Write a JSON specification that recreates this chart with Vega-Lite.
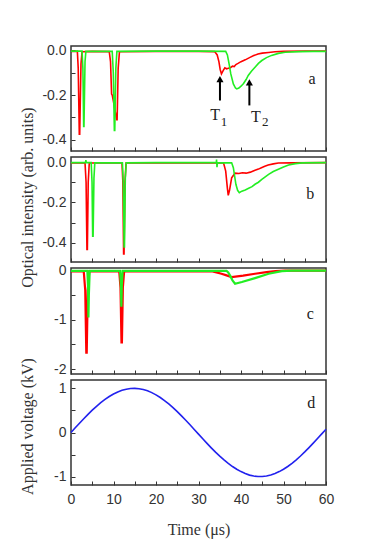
{
  "$schema": "https://vega.github.io/schema/vega-lite/v6.json",
  "padding": {"left": 18, "top": 42, "right": 5, "bottom": 5},
  "background": "white",
  "spacing": 6,
  "bounds": "flush",
  "config": {
    "view": {"stroke": "#333", "strokeWidth": 1.5},
    "axis": {"domain": false, "grid": false, "tickSize": -4, "tickColor": "#333", "tickWidth": 1, "labelFont": "Liberation Sans", "labelFontSize": 14, "labelColor": "#333", "labelOverlap": false, "labelFlush": false, "titleFont": "Liberation Serif", "titleFontSize": 16, "titleFontWeight": "normal", "titleColor": "#333"},
    "axisY": {"labelPadding": 9, "minExtent": 30, "maxExtent": 30, "titlePadding": 6},
    "axisX": {"labelPadding": 11, "titlePadding": 15}
  },
  "datasets": {
    "a": [
      {"t":0,"v":-0.004,"s":"red"},{"t":1.5,"v":-0.004,"s":"red"},{"t":1.7,"v":-0.08,"s":"red"},{"t":1.95,"v":-0.375,"s":"red"},{"t":2.05,"v":-0.375,"s":"red"},{"t":2.35,"v":-0.06,"s":"red"},{"t":2.6,"v":-0.006,"s":"red"},{"t":5,"v":-0.004,"s":"red"},{"t":9.0,"v":-0.005,"s":"red"},{"t":9.3,"v":-0.05,"s":"red"},{"t":9.55,"v":-0.195,"s":"red"},{"t":9.7,"v":-0.2,"s":"red"},{"t":10.2,"v":-0.25,"s":"red"},{"t":10.75,"v":-0.31,"s":"red"},{"t":10.85,"v":-0.31,"s":"red"},{"t":11.1,"v":-0.08,"s":"red"},{"t":11.4,"v":-0.006,"s":"red"},{"t":20,"v":-0.004,"s":"red"},{"t":30,"v":-0.004,"s":"red"},{"t":33.8,"v":-0.005,"s":"red"},{"t":34.4,"v":-0.02,"s":"red"},{"t":34.8,"v":-0.05,"s":"red"},{"t":35.1,"v":-0.085,"s":"red"},{"t":35.4,"v":-0.105,"s":"red"},{"t":35.8,"v":-0.09,"s":"red"},{"t":36.2,"v":-0.078,"s":"red"},{"t":36.6,"v":-0.082,"s":"red"},{"t":37.0,"v":-0.08,"s":"red"},{"t":37.5,"v":-0.077,"s":"red"},{"t":38.0,"v":-0.07,"s":"red"},{"t":38.4,"v":-0.072,"s":"red"},{"t":38.8,"v":-0.063,"s":"red"},{"t":39.3,"v":-0.058,"s":"red"},{"t":40,"v":-0.05,"s":"red"},{"t":41,"v":-0.042,"s":"red"},{"t":42,"v":-0.032,"s":"red"},{"t":43,"v":-0.023,"s":"red"},{"t":44,"v":-0.016,"s":"red"},{"t":45,"v":-0.012,"s":"red"},{"t":46.5,"v":-0.009,"s":"red"},{"t":48,"v":-0.006,"s":"red"},{"t":50,"v":-0.004,"s":"red"},{"t":55,"v":-0.003,"s":"red"},{"t":60,"v":-0.003,"s":"red"},
      {"t":0,"v":-0.003,"s":"green"},{"t":2.6,"v":-0.003,"s":"green"},{"t":2.8,"v":-0.08,"s":"green"},{"t":2.98,"v":-0.34,"s":"green"},{"t":3.05,"v":-0.34,"s":"green"},{"t":3.3,"v":-0.05,"s":"green"},{"t":3.5,"v":-0.004,"s":"green"},{"t":9.7,"v":-0.004,"s":"green"},{"t":9.95,"v":-0.1,"s":"green"},{"t":10.2,"v":-0.358,"s":"green"},{"t":10.3,"v":-0.358,"s":"green"},{"t":10.55,"v":-0.08,"s":"green"},{"t":10.8,"v":-0.004,"s":"green"},{"t":20,"v":-0.003,"s":"green"},{"t":30,"v":-0.003,"s":"green"},{"t":36.4,"v":-0.004,"s":"green"},{"t":36.8,"v":-0.02,"s":"green"},{"t":37.2,"v":-0.06,"s":"green"},{"t":37.6,"v":-0.105,"s":"green"},{"t":38.2,"v":-0.15,"s":"green"},{"t":38.7,"v":-0.168,"s":"green"},{"t":39.0,"v":-0.172,"s":"green"},{"t":39.5,"v":-0.168,"s":"green"},{"t":40.0,"v":-0.16,"s":"green"},{"t":40.6,"v":-0.148,"s":"green"},{"t":41.2,"v":-0.13,"s":"green"},{"t":41.7,"v":-0.112,"s":"green"},{"t":42.5,"v":-0.092,"s":"green"},{"t":43.3,"v":-0.075,"s":"green"},{"t":44.1,"v":-0.058,"s":"green"},{"t":44.9,"v":-0.045,"s":"green"},{"t":46,"v":-0.032,"s":"green"},{"t":47.2,"v":-0.022,"s":"green"},{"t":48.8,"v":-0.013,"s":"green"},{"t":50.4,"v":-0.008,"s":"green"},{"t":53.6,"v":-0.005,"s":"green"},{"t":57,"v":-0.004,"s":"green"},{"t":60,"v":-0.004,"s":"green"}
    ],
    "b": [
      {"t":0,"v":-0.004,"s":"red"},{"t":3.3,"v":-0.004,"s":"red"},{"t":3.55,"v":-0.1,"s":"red"},{"t":3.75,"v":-0.433,"s":"red"},{"t":3.85,"v":-0.433,"s":"red"},{"t":4.05,"v":-0.1,"s":"red"},{"t":4.3,"v":-0.005,"s":"red"},{"t":12.0,"v":-0.004,"s":"red"},{"t":12.2,"v":-0.1,"s":"red"},{"t":12.38,"v":-0.455,"s":"red"},{"t":12.48,"v":-0.455,"s":"red"},{"t":12.7,"v":-0.1,"s":"red"},{"t":12.95,"v":-0.005,"s":"red"},{"t":20,"v":-0.004,"s":"red"},{"t":30,"v":-0.004,"s":"red"},{"t":35.9,"v":-0.005,"s":"red"},{"t":36.4,"v":-0.045,"s":"red"},{"t":36.8,"v":-0.13,"s":"red"},{"t":37.0,"v":-0.165,"s":"red"},{"t":37.3,"v":-0.14,"s":"red"},{"t":37.8,"v":-0.078,"s":"red"},{"t":38.6,"v":-0.055,"s":"red"},{"t":39.5,"v":-0.057,"s":"red"},{"t":40.3,"v":-0.053,"s":"red"},{"t":41.2,"v":-0.055,"s":"red"},{"t":42.2,"v":-0.05,"s":"red"},{"t":43.3,"v":-0.041,"s":"red"},{"t":44.1,"v":-0.035,"s":"red"},{"t":44.8,"v":-0.028,"s":"red"},{"t":45.6,"v":-0.021,"s":"red"},{"t":46.4,"v":-0.015,"s":"red"},{"t":47.6,"v":-0.009,"s":"red"},{"t":48.8,"v":-0.005,"s":"red"},{"t":52,"v":-0.004,"s":"red"},{"t":60,"v":-0.003,"s":"red"},
      {"t":0,"v":-0.003,"s":"green"},{"t":3.4,"v":-0.003,"s":"green"},{"t":3.5,"v":0.01,"s":"green"},{"t":3.6,"v":-0.003,"s":"green"},{"t":4.75,"v":-0.003,"s":"green"},{"t":4.95,"v":-0.1,"s":"green"},{"t":5.1,"v":-0.367,"s":"green"},{"t":5.2,"v":-0.367,"s":"green"},{"t":5.4,"v":-0.08,"s":"green"},{"t":5.6,"v":-0.004,"s":"green"},{"t":12.1,"v":-0.004,"s":"green"},{"t":12.3,"v":-0.1,"s":"green"},{"t":12.5,"v":-0.42,"s":"green"},{"t":12.58,"v":-0.42,"s":"green"},{"t":12.78,"v":-0.08,"s":"green"},{"t":13.0,"v":-0.004,"s":"green"},{"t":20,"v":-0.003,"s":"green"},{"t":34.2,"v":-0.003,"s":"green"},{"t":34.25,"v":0.012,"s":"green"},{"t":34.35,"v":-0.025,"s":"green"},{"t":34.45,"v":-0.003,"s":"green"},{"t":37.8,"v":-0.004,"s":"green"},{"t":38.2,"v":-0.028,"s":"green"},{"t":38.5,"v":-0.07,"s":"green"},{"t":38.8,"v":-0.11,"s":"green"},{"t":39.2,"v":-0.14,"s":"green"},{"t":39.6,"v":-0.152,"s":"green"},{"t":40.2,"v":-0.144,"s":"green"},{"t":41.0,"v":-0.138,"s":"green"},{"t":41.8,"v":-0.13,"s":"green"},{"t":42.6,"v":-0.122,"s":"green"},{"t":43.3,"v":-0.11,"s":"green"},{"t":44.1,"v":-0.1,"s":"green"},{"t":44.9,"v":-0.086,"s":"green"},{"t":45.7,"v":-0.073,"s":"green"},{"t":46.5,"v":-0.061,"s":"green"},{"t":47.6,"v":-0.047,"s":"green"},{"t":48.8,"v":-0.036,"s":"green"},{"t":50.0,"v":-0.025,"s":"green"},{"t":51.2,"v":-0.015,"s":"green"},{"t":52.8,"v":-0.008,"s":"green"},{"t":54.4,"v":-0.004,"s":"green"},{"t":60,"v":-0.003,"s":"green"}
    ],
    "c": [
      {"t":0,"v":-0.02,"s":"red"},{"t":3.0,"v":-0.02,"s":"red"},{"t":3.35,"v":-0.4,"s":"red"},{"t":3.6,"v":-1.665,"s":"red"},{"t":3.7,"v":-1.665,"s":"red"},{"t":3.95,"v":-0.4,"s":"red"},{"t":4.3,"v":-0.02,"s":"red"},{"t":11.35,"v":-0.02,"s":"red"},{"t":11.65,"v":-0.35,"s":"red"},{"t":11.88,"v":-1.457,"s":"red"},{"t":11.98,"v":-1.457,"s":"red"},{"t":12.2,"v":-0.35,"s":"red"},{"t":12.5,"v":-0.02,"s":"red"},{"t":20,"v":-0.02,"s":"red"},{"t":33.3,"v":-0.02,"s":"red"},{"t":34.0,"v":-0.035,"s":"red"},{"t":35.4,"v":-0.067,"s":"red"},{"t":36.6,"v":-0.1,"s":"red"},{"t":37.8,"v":-0.134,"s":"red"},{"t":40.5,"v":-0.105,"s":"red"},{"t":43.3,"v":-0.067,"s":"red"},{"t":46,"v":-0.035,"s":"red"},{"t":48.1,"v":-0.013,"s":"red"},{"t":50.4,"v":-0.005,"s":"red"},{"t":60,"v":-0.005,"s":"red"},
      {"t":0,"v":-0.01,"s":"green"},{"t":3.85,"v":-0.01,"s":"green"},{"t":4.0,"v":-0.3,"s":"green"},{"t":4.1,"v":-0.953,"s":"green"},{"t":4.2,"v":-0.5,"s":"green"},{"t":4.4,"v":-0.01,"s":"green"},{"t":11.55,"v":-0.01,"s":"green"},{"t":11.75,"v":-0.3,"s":"green"},{"t":11.85,"v":-0.738,"s":"green"},{"t":11.95,"v":-0.3,"s":"green"},{"t":12.15,"v":-0.01,"s":"green"},{"t":20,"v":-0.01,"s":"green"},{"t":36.6,"v":-0.01,"s":"green"},{"t":37.0,"v":-0.04,"s":"green"},{"t":37.4,"v":-0.1,"s":"green"},{"t":38.0,"v":-0.2,"s":"green"},{"t":38.6,"v":-0.27,"s":"green"},{"t":40.2,"v":-0.235,"s":"green"},{"t":43.3,"v":-0.155,"s":"green"},{"t":46.5,"v":-0.067,"s":"green"},{"t":49.6,"v":-0.013,"s":"green"},{"t":52,"v":-0.003,"s":"green"},{"t":60,"v":-0.003,"s":"green"}
    ],
    "d": [
      {"t":0,"v":0},{"t":1,"v":0.1058},{"t":2,"v":0.2103},{"t":3,"v":0.3126},{"t":4,"v":0.4112},{"t":5,"v":0.5054},{"t":6,"v":0.5938},{"t":7,"v":0.6755},{"t":8,"v":0.7496},{"t":9,"v":0.8156},{"t":10,"v":0.872},{"t":11,"v":0.919},{"t":12,"v":0.9555},{"t":13,"v":0.9813},{"t":14,"v":0.9962},{"t":15,"v":0.9999},{"t":16,"v":0.9923},{"t":17,"v":0.9737},{"t":18,"v":0.9441},{"t":19,"v":0.9038},{"t":20,"v":0.8532},{"t":21,"v":0.7927},{"t":22,"v":0.7243},{"t":23,"v":0.6476},{"t":24,"v":0.5635},{"t":25,"v":0.4729},{"t":26,"v":0.3773},{"t":27,"v":0.2775},{"t":28,"v":0.1741},{"t":29,"v":0.0687},{"t":30,"v":-0.0372},{"t":31,"v":-0.1428},{"t":32,"v":-0.2466},{"t":33,"v":-0.3478},{"t":34,"v":-0.4449},{"t":35,"v":-0.5367},{"t":36,"v":-0.6219},{"t":37,"v":-0.7004},{"t":38,"v":-0.7712},{"t":39,"v":-0.8331},{"t":40,"v":-0.8858},{"t":41,"v":-0.9291},{"t":42,"v":-0.9658},{"t":43,"v":-0.9878},{"t":44,"v":-0.9989},{"t":45,"v":-0.9983},{"t":46,"v":-0.9865},{"t":47,"v":-0.964},{"t":48,"v":-0.93},{"t":49,"v":-0.8863},{"t":50,"v":-0.8333},{"t":51,"v":-0.7701},{"t":52,"v":-0.6984},{"t":53,"v":-0.619},{"t":54,"v":-0.5323},{"t":55,"v":-0.4398},{"t":56,"v":-0.3423},{"t":57,"v":-0.2411},{"t":58,"v":-0.1371},{"t":59,"v":-0.0316},{"t":60,"v":0.0743}
    ]
  },
  "vconcat": [
    {
      "width": 255, "height": 105,
      "data": {"name": "a"},
      "encoding": {
        "x": {"field": "t", "type": "quantitative", "scale": {"domain": [0, 60], "nice": false, "zero": false}, "axis": {"values": [0,5,10,15,20,25,30,35,40,45,50,55,60], "labels": false, "title": null}},
        "y": {"field": "v", "type": "quantitative", "scale": {"domain": [-0.45, 0.02], "nice": false, "zero": false}, "axis": {"values": [0,-0.1,-0.2,-0.3,-0.4], "title": null, "labelExpr": "abs(round(datum.value*10)) % 2 == 0 ? (datum.value < 0 ? '-' : '') + format(abs(datum.value), '.1f') : ''"}}
      },
      "layer": [
        {"transform": [{"filter": "datum.s == 'red'"}], "mark": {"type": "line", "color": "#ff0000", "strokeWidth": 1.6}},
        {"transform": [{"filter": "datum.s == 'green'"}], "mark": {"type": "line", "color": "#22ee22", "strokeWidth": 1.6}},
        {"data": {"values": [{"t": 35.05, "v": -0.126, "v2": -0.224}, {"t": 41.97, "v": -0.141, "v2": -0.246}]}, "mark": {"type": "rule", "color": "#000", "strokeWidth": 2}, "encoding": {"y2": {"field": "v2"}}},
        {"data": {"values": [{"t": 35.05, "v": -0.128}, {"t": 41.97, "v": -0.143}]}, "mark": {"type": "point", "shape": "triangle-up", "filled": true, "color": "#000", "opacity": 1, "size": 50}},
        {"data": {"values": [{"t": 33.9, "v": -0.291, "label": "T"}, {"t": 43.5, "v": -0.296, "label": "T"}, {"t": 56.7, "v": -0.127, "label": "a"}]}, "mark": {"type": "text", "font": "Liberation Serif", "fontSize": 16, "color": "#222"}, "encoding": {"text": {"field": "label"}}},
        {"data": {"values": [{"t": 36.0, "v": -0.318, "label": "1"}, {"t": 45.7, "v": -0.321, "label": "2"}]}, "mark": {"type": "text", "font": "Liberation Serif", "fontSize": 13, "color": "#222"}, "encoding": {"text": {"field": "label"}}}
      ]
    },
    {
      "width": 255, "height": 105,
      "data": {"name": "b"},
      "encoding": {
        "x": {"field": "t", "type": "quantitative", "scale": {"domain": [0, 60], "nice": false, "zero": false}, "axis": {"values": [0,5,10,15,20,25,30,35,40,45,50,55,60], "labels": false, "title": null}},
        "y": {"field": "v", "type": "quantitative", "scale": {"domain": [-0.495, 0.025], "nice": false, "zero": false}, "axis": {"values": [0,-0.1,-0.2,-0.3,-0.4], "title": "Optical intensity (arb. units)", "titleY": 40, "labelExpr": "abs(round(datum.value*10)) % 2 == 0 ? (datum.value < 0 ? '-' : '') + format(abs(datum.value), '.1f') : ''"}}
      },
      "layer": [
        {"transform": [{"filter": "datum.s == 'red'"}], "mark": {"type": "line", "color": "#ff0000", "strokeWidth": 1.6}},
        {"transform": [{"filter": "datum.s == 'green'"}], "mark": {"type": "line", "color": "#22ee22", "strokeWidth": 1.6}},
        {"data": {"values": [{"t": 56.3, "v": -0.16, "label": "b"}]}, "mark": {"type": "text", "font": "Liberation Serif", "fontSize": 16, "color": "#222"}, "encoding": {"text": {"field": "label"}}}
      ]
    },
    {
      "width": 255, "height": 106,
      "data": {"name": "c"},
      "encoding": {
        "x": {"field": "t", "type": "quantitative", "scale": {"domain": [0, 60], "nice": false, "zero": false}, "axis": {"values": [0,5,10,15,20,25,30,35,40,45,50,55,60], "labels": false, "title": null}},
        "y": {"field": "v", "type": "quantitative", "scale": {"domain": [-2.1, 0.05], "nice": false, "zero": false}, "axis": {"values": [0,-0.5,-1,-1.5,-2], "title": null, "labelExpr": "abs(round(datum.value*2)) % 2 == 0 ? (datum.value < 0 ? '-' : '') + format(abs(datum.value), 'd') : ''"}}
      },
      "layer": [
        {"transform": [{"filter": "datum.s == 'red'"}], "mark": {"type": "line", "color": "#ff0000", "strokeWidth": 2.2}},
        {"transform": [{"filter": "datum.s == 'green'"}], "mark": {"type": "line", "color": "#22ee22", "strokeWidth": 2.2}},
        {"data": {"values": [{"t": 56.3, "v": -0.88, "label": "c"}]}, "mark": {"type": "text", "font": "Liberation Serif", "fontSize": 16, "color": "#222"}, "encoding": {"text": {"field": "label"}}}
      ]
    },
    {
      "width": 255, "height": 105,
      "data": {"name": "d"},
      "encoding": {
        "x": {"field": "t", "type": "quantitative", "scale": {"domain": [0, 60], "nice": false, "zero": false}, "axis": {"values": [0,5,10,15,20,25,30,35,40,45,50,55,60], "title": "Time (μs)", "labelExpr": "datum.value % 10 == 0 ? datum.label : ''"}},
        "y": {"field": "v", "type": "quantitative", "scale": {"domain": [-1.19, 1.19], "nice": false, "zero": false}, "axis": {"values": [1,0.5,0,-0.5,-1], "title": "Applied voltage (kV)", "titleY": 46, "labelExpr": "abs(round(datum.value*2)) % 2 == 0 ? (datum.value < 0 ? '-' : '') + format(abs(datum.value), 'd') : ''"}}
      },
      "layer": [
        {"mark": {"type": "line", "color": "#2222ee", "strokeWidth": 1.6}},
        {"data": {"values": [{"t": 56.5, "v": 0.68, "label": "d"}]}, "mark": {"type": "text", "font": "Liberation Serif", "fontSize": 16, "color": "#222"}, "encoding": {"text": {"field": "label"}}}
      ]
    }
  ]
}
